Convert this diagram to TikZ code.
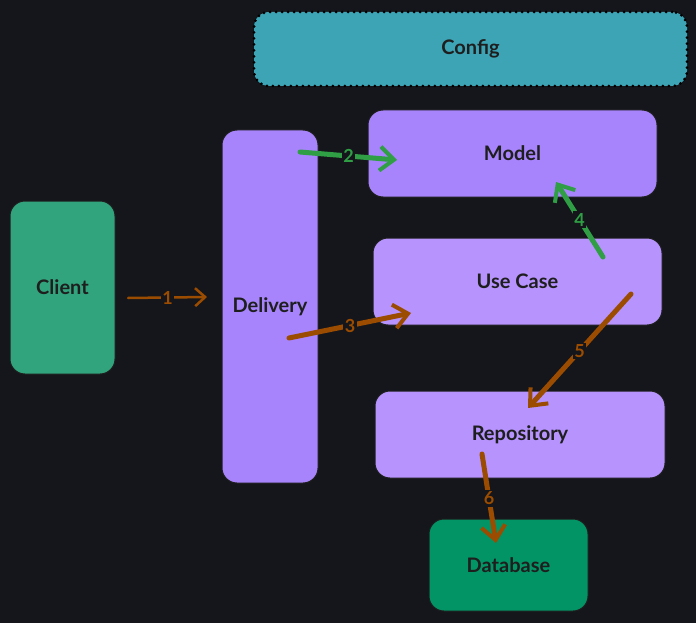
\documentclass[tikz,border=0pt]{standalone}
\usepackage{fontspec}
\setmainfont{Lato}
\usetikzlibrary{arrows.meta}
\definecolor{bg}{HTML}{14161B}
\definecolor{cfgc}{HTML}{3CA4B5}
\definecolor{purA}{HTML}{A784FB}
\definecolor{purB}{HTML}{B693FD}
\definecolor{cligreen}{HTML}{31A47E}
\definecolor{dbgreen}{HTML}{029465}
\definecolor{arrorange}{HTML}{9C4C00}
\definecolor{arrgreen}{HTML}{2F9E44}
\definecolor{ink}{HTML}{1E1E1E}
\tikzset{
  box/.style={draw=ink, line width=1pt, rounded corners=15pt, text=ink,
    font=\fontsize{20}{24}\selectfont\bfseries, inner sep=0pt},
  flow/.style={line width=5pt, line cap=round,
    -{Straight Barb[length=14pt,width=24pt,line width=4pt]}},
  thinflow/.style={line width=2.5pt, line cap=round,
    -{Straight Barb[length=10pt,width=18pt,line width=2.5pt]}},
  lbl/.style={fill=bg, inner sep=1.5pt, font=\fontsize{18}{20}\selectfont\bfseries}
}
\begin{document}
\begin{tikzpicture}[x=1pt,y=-1pt]
\fill[bg] (0,0) rectangle (696,623);
\useasboundingbox (0,0) rectangle (696,623);

\node[box, fill=cfgc, draw=black, line width=3pt, dash pattern=on 0pt off 6pt, line cap=round,
  minimum width=433pt, minimum height=74pt] (config) at (470.5,49) {Config};
\node[box, fill=purA, minimum width=289pt, minimum height=87pt] (model) at (512.5,153.5) {Model};
\node[box, fill=purB, minimum width=289pt, minimum height=87pt] (usecase) at (517.5,281.5) {Use Case};
\node[box, fill=purB, minimum width=290pt, minimum height=87pt] (repo) at (520,434.5) {Repository};
\node[box, fill=purA, minimum width=96pt, minimum height=353pt] (delivery) at (270,306.5) {Delivery};
\node[box, fill=cligreen, minimum width=105pt, minimum height=173pt] (client) at (62.5,287.5) {Client};
\node[box, fill=dbgreen, minimum width=159pt, minimum height=92pt] (db) at (508.5,565) {Database};

\coordinate (s1) at (128,298);  \coordinate (e1) at (207,297);
\coordinate (s2) at (300,152);  \coordinate (e2) at (397,160);
\coordinate (s3) at (289,338);  \coordinate (e3) at (411,313);
\coordinate (s4) at (603,257);  \coordinate (e4) at (556,182);
\coordinate (s5) at (631,294);  \coordinate (e5) at (528,408);
\coordinate (s6) at (482,454);  \coordinate (e6) at (496,543);

\draw[thinflow, arrorange] (s1) -- node[lbl, text=arrorange] {1} (e1);
\draw[flow, arrgreen] (s2) -- node[lbl, text=arrgreen] {2} (e2);
\draw[flow, arrorange] (s3) -- node[lbl, text=arrorange] {3} (e3);
\draw[flow, arrgreen] (s4) -- node[lbl, text=arrgreen] {4} (e4);
\draw[flow, arrorange] (s5) -- node[lbl, text=arrorange] {5} (e5);
\draw[flow, arrorange] (s6) -- node[lbl, text=arrorange] {6} (e6);
\end{tikzpicture}
\end{document}
